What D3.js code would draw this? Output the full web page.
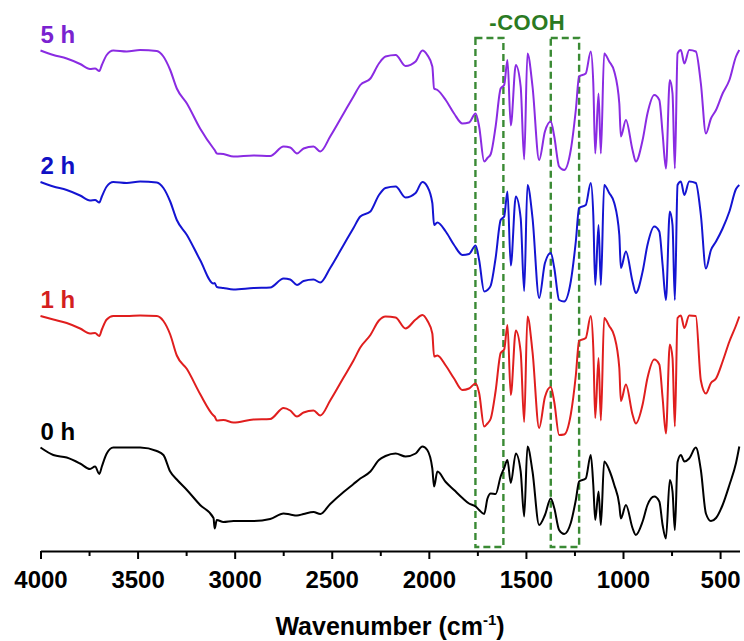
<!DOCTYPE html>
<html>
<head>
<meta charset="utf-8">
<script src="https://cdn.jsdelivr.net/npm/d3@7/dist/d3.min.js"></script>
<style>
  html, body { margin: 0; padding: 0; background: #ffffff; }
  svg { display: block; font-family: "Liberation Sans", Arial, Helvetica, sans-serif; }
</style>
</head>
<body>
<svg id="chart" width="744" height="641"></svg>
<script>
// ---------------- DATA ----------------
const wavenumbers = [
  4000,3934,3865,3796,3745,3719,3697,3684,3659,3625,
  3556,3487,3401,3367,3332,3298,3246,3178,3109,3103,
  3092,3058,3006,2903,2817,2748,2714,2679,2645,2594,
  2559,2508,2439,2388,2353,2301,2257,2223,2171,2120,
  2068,2033,2008,1982,1973,1956,1913,1870,1827,1793,
  1759,1741,1715,1698,1681,1656,1630,1612,1595,1578,
  1552,1527,1509,1492,1466,1432,1402,1372,1354,1329,
  1303,1269,1243,1226,1192,1166,1153,1143,1126,1114,
  1097,1071,1045,1019,1011,985,951,934,899,874,
  839,813,796,779,759,745,733,719,702,684,
  659,625,599,573,547,521,487,452,418,401
];

const t0h = [
  25.1,23.6,23.1,21.9,20.8,21.3,19.8,21.3,23.9,25.1,
  25.1,25.1,24.4,23.6,20.3,18.7,16.6,13.6,11.0,8.9,
  10.6,10.2,10.4,10.4,10.8,11.9,11.7,11.5,11.8,12.2,
  11.8,13.8,16.2,17.8,18.9,20.3,22.6,23.4,23.9,23.3,
  23.9,25.3,24.6,20.9,17.3,20.3,18.2,16.6,15.0,13.9,
  13.3,12.6,11.8,14.9,15.9,15.8,19.3,21.0,22.6,18.0,
  23.9,20.3,11.3,25.3,20.3,9.6,11.6,14.9,13.0,8.6,
  7.8,10.0,14.6,18.3,18.9,23.6,17.6,10.6,16.3,9.6,
  22.3,20.6,17.6,13.6,10.9,13.6,9.0,7.6,10.3,13.6,
  15.3,14.3,9.6,6.9,18.6,16.3,8.6,22.2,23.6,22.3,
  22.9,25.1,20.6,11.9,10.4,11.0,13.6,17.6,22.0,25.3
];

const t1h = [
  24.9,24.2,23.5,22.4,21.4,21.5,20.9,22.2,24.2,24.9,
  24.9,25.0,24.9,23.9,21.2,17.0,14.3,9.3,5.0,4.8,
  4.0,4.1,3.6,4.2,4.3,6.5,6.0,4.8,5.6,6.0,
  5.0,8.0,12.6,16.0,18.6,21.1,24.0,24.8,24.6,22.4,
  24.2,25.1,24.0,21.4,16.8,17.0,15.0,12.4,10.1,10.4,
  11.4,9.5,2.8,3.4,4.4,9.9,17.5,18.2,23.1,9.1,
  22.0,17.7,3.7,24.8,17.7,2.5,8.7,10.7,7.7,1.1,
  1.2,5.2,13.0,19.9,20.5,24.9,18.5,4.5,16.5,4.0,
  24.5,22.9,20.9,14.5,7.9,11.2,5.2,3.4,7.2,12.5,
  16.2,15.2,8.5,1.4,19.2,16.5,2.8,24.5,25.0,22.5,
  25.0,24.9,12.0,9.4,11.5,12.4,15.8,19.8,23.0,24.8
];

const t2h = [
  25.2,24.3,23.6,22.5,21.5,21.6,21.1,22.3,24.3,25.2,
  25.0,25.3,25.1,24.0,21.3,17.6,14.6,9.6,4.9,5.0,
  4.2,4.0,3.7,4.0,4.1,5.9,5.7,4.6,5.4,5.7,
  5.1,8.0,12.6,16.0,18.3,19.3,22.6,24.0,24.3,22.1,
  23.0,25.2,24.3,21.0,16.6,17.1,15.3,12.6,10.6,10.8,
  12.5,9.6,3.3,3.6,4.5,10.0,17.6,18.3,23.3,8.5,
  22.3,18.0,3.4,24.6,18.0,2.0,9.0,11.0,8.0,1.6,
  1.3,5.3,13.3,20.0,20.6,25.0,18.6,4.6,16.6,4.6,
  24.6,23.0,21.0,14.6,8.0,11.3,5.3,3.0,7.3,12.6,
  16.3,15.3,8.6,1.6,19.3,16.6,1.6,24.6,25.3,22.6,
  25.3,25.0,18.6,7.9,11.6,13.3,15.9,19.3,23.8,24.6
];

const t5h = [
  25.0,24.1,23.4,22.3,21.3,21.4,20.9,22.1,24.1,25.0,
  24.8,25.1,24.9,23.8,21.1,17.4,14.4,9.4,5.4,5.1,
  4.4,4.3,3.8,4.0,3.9,5.8,5.6,4.4,5.4,5.8,
  4.8,7.8,12.4,15.8,18.1,19.4,22.4,23.8,24.1,21.9,
  22.8,25.0,24.1,21.8,17.4,17.1,15.1,12.4,10.4,10.6,
  12.4,9.8,2.8,3.5,4.3,9.8,17.4,18.1,23.1,10.0,
  22.1,17.8,3.2,24.4,17.8,3.1,8.8,10.8,7.8,1.8,
  1.1,5.1,13.1,19.8,20.4,24.8,18.4,4.4,16.4,4.4,
  24.4,22.8,20.8,14.4,7.8,11.1,5.1,2.8,7.1,12.4,
  16.1,15.1,8.4,1.4,19.1,16.4,1.4,24.4,25.1,22.4,
  25.1,24.8,18.4,8.4,11.4,13.1,16.4,19.1,23.8,25.1
];

const seriesLabels  = ["0 h", "1 h", "2 h", "5 h"];
const seriesValues  = [t0h, t1h, t2h, t5h];
const seriesOffsets = [0, 26.5, 53, 79.5];
const seriesColors  = ["#000000", "#e01e1e", "#1414d2", "#8a2be2"];
const labelColors   = ["#000000", "#d41f1f", "#1010c4", "#7a22d0"];

const xMajorTicks = [4000, 3500, 3000, 2500, 2000, 1500, 1000, 500];
const xMinorTicks = [3750, 3250, 2750, 2250, 1750, 1250, 750];
const coohBands   = [[1760, 1616], [1372, 1226]];
const coohLabel   = "-COOH";
const xTitle      = "Wavenumber (cm";
const xTitleSup   = "-1";

// ---------------- LAYOUT ----------------
const W = 744, H = 641;
const svg = d3.select("#chart");
svg.append("rect").attr("width", W).attr("height", H).attr("fill", "#fff");

const x = d3.scaleLinear().domain([4000, 400]).range([40.5, 739.5]);
const y = d3.scaleLinear().domain([0, 110]).range([573, 23]);
const axisY = 551;
const boxTopVal = 107, boxBottomVal = 5.2;

// dashed -COOH boxes
const gBox = svg.append("g");
coohBands.forEach(b => {
  gBox.append("rect")
    .attr("x", x(b[0]))
    .attr("y", y(boxTopVal))
    .attr("width", x(b[1]) - x(b[0]))
    .attr("height", y(boxBottomVal) - y(boxTopVal))
    .attr("fill", "none")
    .attr("stroke", "#3a8a34")
    .attr("stroke-width", 2.4)
    .attr("stroke-dasharray", "7,4");
});
svg.append("text")
  .attr("x", (x(coohBands[0][0]) + x(coohBands[1][1])) / 2)
  .attr("y", 30)
  .attr("text-anchor", "middle")
  .attr("font-size", 22)
  .attr("font-weight", "bold")
  .attr("letter-spacing", 0.5)
  .attr("fill", "#2a7a22")
  .text(coohLabel);

// spectra
const line = d3.line().curve(d3.curveMonotoneX);
seriesValues.forEach((vals, i) => {
  const pts = wavenumbers.map((wn, k) => [x(wn), y(vals[k] + seriesOffsets[i])]);
  svg.append("path")
    .attr("d", line(pts))
    .attr("fill", "none")
    .attr("stroke", seriesColors[i])
    .attr("stroke-width", 2)
    .attr("stroke-linejoin", "round");
  svg.append("text")
    .attr("x", x(4000))
    .attr("y", y(vals[0] + seriesOffsets[i]) - 8)
    .attr("font-size", 24)
    .attr("font-weight", "bold")
    .attr("fill", labelColors[i])
    .text(seriesLabels[i]);
});

// x axis
const gAxis = svg.append("g").attr("transform", `translate(0,${axisY})`)
  .call(d3.axisBottom(x).tickValues(xMajorTicks).tickFormat(d3.format("d"))
    .tickSize(8).tickSizeOuter(0).tickPadding(12));
gAxis.select(".domain").attr("stroke", "#000").attr("stroke-width", 2);
gAxis.selectAll(".tick line").attr("stroke", "#000").attr("stroke-width", 2);
gAxis.selectAll(".tick text")
  .attr("font-family", "\"Liberation Sans\", Arial, sans-serif")
  .attr("font-size", 24).attr("font-weight", "bold").attr("fill", "#000");

const gMinor = svg.append("g").attr("transform", `translate(0,${axisY})`)
  .call(d3.axisBottom(x).tickValues(xMinorTicks).tickSize(5).tickSizeOuter(0).tickFormat(""));
gMinor.select(".domain").remove();
gMinor.selectAll(".tick line").attr("stroke", "#000").attr("stroke-width", 2);

// axis title
const title = svg.append("text")
  .attr("x", (x(4000) + x(400)) / 2)
  .attr("y", 635)
  .attr("text-anchor", "middle")
  .attr("font-size", 25)
  .attr("font-weight", "bold")
  .attr("fill", "#000");
title.append("tspan").text(xTitle);
title.append("tspan").attr("font-size", 15).attr("dy", -10).text(xTitleSup);
title.append("tspan").attr("dy", 10).text(")");
</script>
</body>
</html>
